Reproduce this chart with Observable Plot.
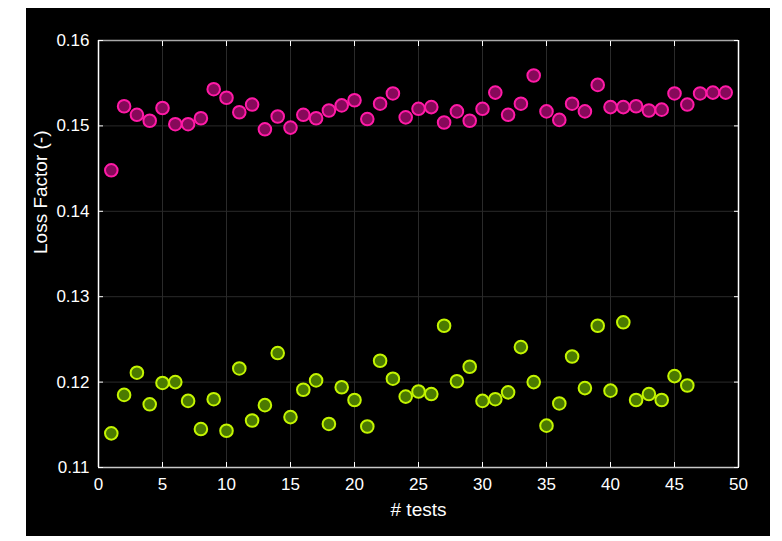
<!DOCTYPE html>
<html>
<head>
<meta charset="utf-8">
<script src="https://cdn.jsdelivr.net/npm/d3@7"></script>
<script src="https://cdn.jsdelivr.net/npm/@observablehq/plot@0.6"></script>
<style>
  html, body { margin: 0; padding: 0; background: #ffffff; }
  #chart { position: absolute; left: 26px; top: 8px; }
  #chart svg { display: block; background: #000000; }
</style>
</head>
<body>
<div id="chart"></div>
<script>
// Data
const magentaValues = [
  0.1448, 0.1523, 0.1513, 0.1506, 0.1521, 0.1502, 0.1502, 0.1509, 0.1543, 0.1533,
  0.1516, 0.1525, 0.1496, 0.1511, 0.1498, 0.1513, 0.1509, 0.1518, 0.1524, 0.1530,
  0.1508, 0.1526, 0.1538, 0.1510, 0.1520, 0.1522, 0.1504, 0.1517, 0.1506, 0.1520,
  0.1539, 0.1513, 0.1526, 0.1559, 0.1517, 0.1507, 0.1526, 0.1517, 0.1548, 0.1522,
  0.1522, 0.1523, 0.1518, 0.1519, 0.1538, 0.1525, 0.1538, 0.1539, 0.1539
];
const greenValues = [
  0.1140, 0.1185, 0.1211, 0.1174, 0.1199, 0.1200, 0.1178, 0.1145, 0.1180, 0.1143,
  0.1216, 0.1155, 0.1173, 0.1234, 0.1159, 0.1191, 0.1202, 0.1151, 0.1194, 0.1179,
  0.1148, 0.1225, 0.1204, 0.1183, 0.1189, 0.1186, 0.1266, 0.1201, 0.1218, 0.1178,
  0.1180, 0.1188, 0.1241, 0.1200, 0.1149, 0.1175, 0.1230, 0.1193, 0.1266, 0.1190,
  0.1270, 0.1179, 0.1186, 0.1179, 0.1207, 0.1196
];
const xTicks = [0, 5, 10, 15, 20, 25, 30, 35, 40, 45, 50];
const yTicks = [0.11, 0.12, 0.13, 0.14, 0.15, 0.16];
const xDomain = [0, 50];
const yDomain = [0.11, 0.16];
const xLabel = "# tests";
const yLabel = "Loss Factor (-)";

const magenta = magentaValues.map((v, i) => ({test: i + 1, value: v}));
const green = greenValues.map((v, i) => ({test: i + 1, value: v}));

const font = "'Liberation Sans', Arial, sans-serif";

const plot = Plot.plot({
  width: 744,
  height: 528,
  marginLeft: 72,
  marginRight: 32,
  marginTop: 32,
  marginBottom: 69,
  style: {background: "#000000", color: "#ffffff", fontFamily: font, fontSize: "17px"},
  x: {domain: xDomain},
  y: {domain: yDomain},
  marks: [
    Plot.gridX(xTicks, {stroke: "#2a2a2a", strokeOpacity: 1, strokeWidth: 1}),
    Plot.gridY(yTicks, {stroke: "#2a2a2a", strokeOpacity: 1, strokeWidth: 1}),
    Plot.ruleY([yDomain[1]], {stroke: "#a8a8a8", strokeWidth: 1.5}),
    Plot.ruleY([yDomain[0]], {stroke: "#c8c8c8", strokeWidth: 1.5}),
    Plot.ruleX([xDomain[0]], {stroke: "#ffffff", strokeWidth: 1.5}),
    Plot.ruleX([xDomain[1]], {stroke: "#ffffff", strokeWidth: 1.5}),
    Plot.axisX(xTicks, {anchor: "bottom", tickSize: -5, tickPadding: 15, stroke: "#ffffff", fill: "#ffffff", label: null, fontSize: 17}),
    Plot.axisX(xTicks, {anchor: "top", tickSize: -5, stroke: "#ffffff", tickFormat: () => "", label: null}),
    Plot.axisY(yTicks, {anchor: "left", tickSize: -5, tickPadding: 14, stroke: "#ffffff", fill: "#ffffff", tickFormat: d3.format(".2f"), label: null, fontSize: 17}),
    Plot.axisY(yTicks, {anchor: "right", tickSize: -5, stroke: "#ffffff", tickFormat: () => "", label: null}),
    Plot.dot(magenta, {x: "test", y: "value", r: 6.3, fill: "#86095a", stroke: "#ff1aa6", strokeWidth: 2}),
    Plot.dot(green, {x: "test", y: "value", r: 6.3, fill: "#4b7a00", stroke: "#c4f500", strokeWidth: 2}),
    Plot.text([xLabel], {frameAnchor: "bottom", dy: 48, fill: "#ffffff", fontSize: 19, text: d => d}),
    Plot.text([yLabel], {frameAnchor: "left", dx: -58, rotate: -90, fill: "#ffffff", fontSize: 19, text: d => d})
  ]
});
document.getElementById("chart").appendChild(plot);
</script>
</body>
</html>
